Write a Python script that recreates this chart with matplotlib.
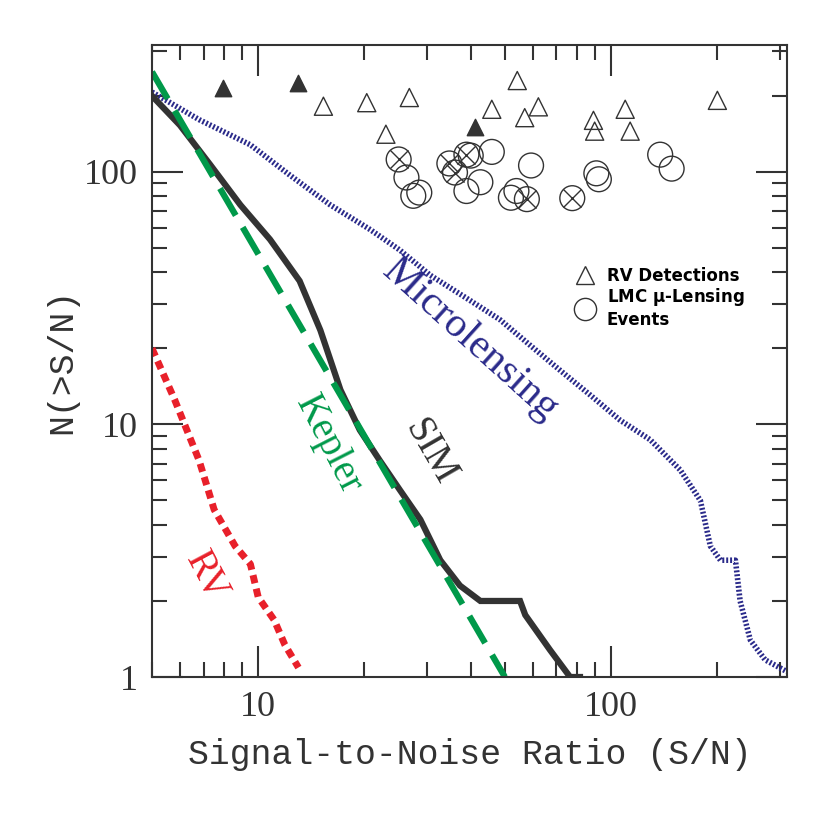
import matplotlib
matplotlib.use("Agg")
import matplotlib.pyplot as plt
from matplotlib.lines import Line2D

sim_x = [5.0, 6.0, 7.3, 8.9, 10.8, 13.1, 15.0, 17.1, 19.4, 22.1, 25.2, 28.8, 32.8, 37.3, 42.6, 55.2, 57.1, 67.1, 76.5, 81.6]
sim_y = [200, 153, 107, 74, 54, 37, 23.6, 13.7, 9.5, 7.2, 5.5, 4.2, 2.9, 2.3, 2.0, 2.0, 1.76, 1.28, 1.0, 1.0]
kep_x = [5.0, 50.0]
kep_y = [249, 1.0]
mic_x = [5.0, 6.8, 9.5, 12.3, 16.0, 20.8, 25.2, 30.7, 39.8, 48.4, 58.9, 71.6, 87.1, 106, 129, 157, 179, 191, 204, 225, 232, 248, 273, 315]
mic_y = [207, 161, 128, 97, 74, 59, 49, 39, 31, 26, 20.6, 16.4, 13.1, 10.4, 8.7, 6.6, 5.0, 3.3, 2.9, 2.9, 2.0, 1.4, 1.17, 1.05]
rv_x = [5.0, 5.8, 6.8, 7.5, 8.6, 9.5, 10.0, 11.1, 11.9, 13.0]
rv_y = [20, 12.5, 7.2, 4.6, 3.3, 2.8, 2.07, 1.68, 1.34, 1.09]

tri_open_x = [15.3, 20.3, 26.8, 23.0, 54.2, 45.9, 56.9, 62.2, 89.1, 89.8, 109.6, 113.2, 200]
tri_open_y = [182, 188, 197, 141, 230, 177, 164, 181, 160, 145, 177, 145, 192]
tri_fill_x = [7.95, 13.0, 41.1]
tri_fill_y = [215, 225, 151]
circ_x = [26.3, 27.5, 28.6, 40.0, 45.9, 59.3, 38.9, 42.6, 52.0, 53.9, 90.8, 92.3, 137.7, 148.4]
circ_y = [95, 80.4, 82.8, 116, 120, 106, 84, 91, 79, 84, 98.7, 93.5, 117, 103]
circx_x = [25.0, 34.8, 36.1, 38.9, 57.7, 77.6]
circx_y = [112, 108, 99.4, 117, 78, 78.7]

fig = plt.figure(figsize=(8.3, 8.3), dpi=100)
ax = fig.add_axes([152/830, 1-677/830, 635/830, 632/830])
ax.set_xscale("log"); ax.set_yscale("log")
ax.set_xlim(5, 315); ax.set_ylim(1, 318)

ax.plot(mic_x, mic_y, color="#2a2a8a", lw=4, ls=(0, (0.35, 0.35)))
ax.plot(rv_x, rv_y, color="#e8202a", lw=5, ls=(0, (1.2, 0.8)))
ax.plot(sim_x, sim_y, color="#333333", lw=4.5, solid_joinstyle="miter")
ax.plot(kep_x, kep_y, color="#00994a", lw=4.5, ls=(0, (5, 2.2)))

ax.scatter(tri_open_x, tri_open_y, marker="^", s=170, facecolors="none", edgecolors="#333333", lw=1)
ax.scatter(tri_fill_x, tri_fill_y, marker="^", s=140, color="#333333")
ax.scatter(circ_x, circ_y, marker="o", s=320, facecolors="none", edgecolors="#333333", lw=1)
ax.scatter(circx_x, circx_y, marker="o", s=320, facecolors="none", edgecolors="#333333", lw=1)
ax.scatter(circx_x, circx_y, marker="x", s=170, color="#333333", lw=1)

ax.text(39.8, 21.6, "Microlensing", color="#2a2a8a", fontsize=30, family="Liberation Serif", rotation=-42, ha="center", va="center")
ax.text(30.7, 7.8, "SIM", color="#333333", fontsize=28, family="Liberation Serif", rotation=-60, ha="center", va="center")
ax.text(15.8, 8.3, "Kepler", color="#00994a", fontsize=28, family="Liberation Serif", rotation=-63, ha="center", va="center")
ax.text(7.1, 2.5, "RV", color="#e8202a", fontsize=28, family="Liberation Serif", rotation=-62, ha="center", va="center")

h = [Line2D([], [], marker="^", ls="none", mfc="none", mec="#333333", ms=13),
     Line2D([], [], marker="o", ls="none", mfc="none", mec="#333333", ms=16)]
ax.legend(h, ["RV Detections", "LMC $\\mathbf{\\mu}$-Lensing\nEvents"], loc="upper left", bbox_to_anchor=(0.645, 0.66),
          frameon=False, prop={"weight": "bold", "size": 12}, handletextpad=0.3, labelspacing=0.1, borderaxespad=0)

for s in ax.spines.values():
    s.set_linewidth(1.5); s.set_color("#333333")
ax.tick_params(which="both", direction="in", top=True, right=True, color="#333333", width=1.5)
ax.tick_params(which="major", length=22, labelsize=26, pad=10)
ax.tick_params(which="minor", length=11)
ax.set_xticks([10, 100]); ax.set_xticklabels(["10", "100"])
ax.set_yticks([1, 10, 100]); ax.set_yticklabels(["1", "10", "100"])
for t in ax.get_xticklabels() + ax.get_yticklabels():
    t.set_family("Liberation Serif"); t.set_color("#333333")
ax.set_xlabel("Signal-to-Noise Ratio (S/N)", fontsize=25, family="Liberation Mono", color="#333333", labelpad=10)
ax.set_ylabel("N(>S/N)", fontsize=25, family="Liberation Mono", color="#333333", labelpad=4)

fig.savefig("out.png", dpi=100)
